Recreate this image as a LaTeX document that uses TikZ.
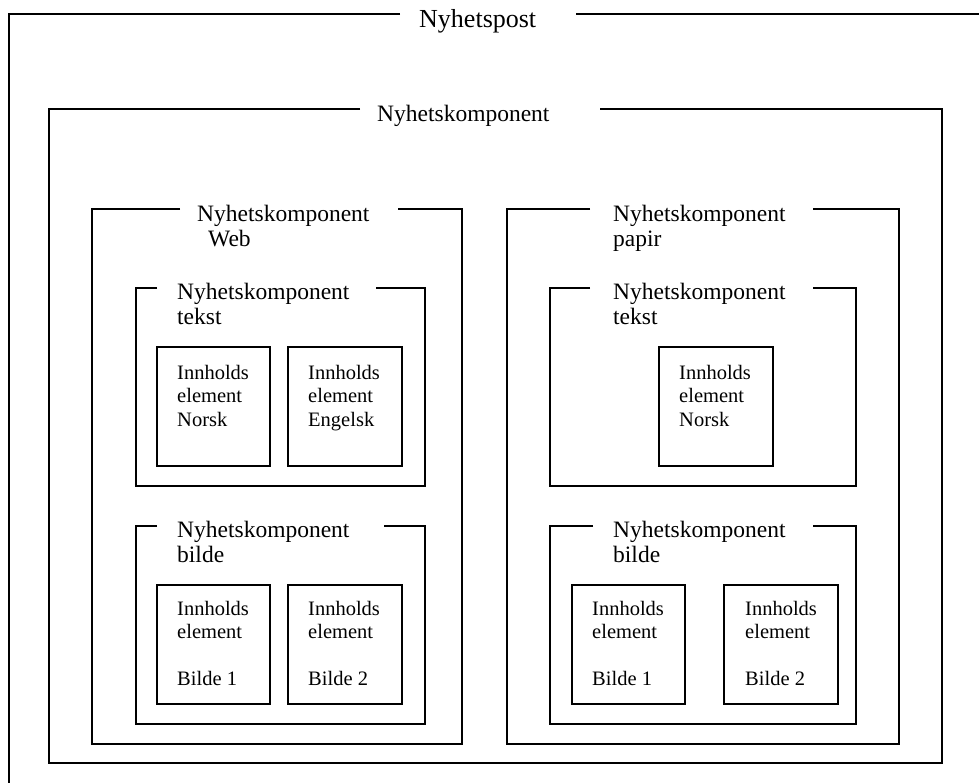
\documentclass[tikz,border=0pt]{standalone}
\usepackage{fontspec}
\setmainfont{Liberation Serif}
\begin{document}
% frame whose top edge is broken for its title:
% #1 left, #2 top, #3 right, #4 bottom, #5 end of left top segment, #6 start of right top segment
\newcommand{\gapframe}[6]{%
  \draw[frameline] (#5,#2) -- (#1,#2) -- (#1,#4) -- (#3,#4) -- (#3,#2) -- (#6,#2);}
% multi-line nodes sit on the baseline of their last line
\begin{tikzpicture}[x=1pt, y=-1pt,
  frameline/.style={line width=1.6pt, line join=miter},
  title/.style={anchor=base west, inner sep=0pt, align=left,
    font=\fontsize{23.5}{25.5}\selectfont},
  item/.style={anchor=base west, inner sep=0pt, align=left,
    font=\fontsize{20.5}{23.5}\selectfont}]
\useasboundingbox (0,0) rectangle (979,782);
\fill[white] (0,0) rectangle (979,782);

% Nyhetspost (open towards right and bottom)
\draw[frameline] (400,14) -- (9,14) -- (9,800);
\draw[frameline] (576,14) -- (990,14);
\node[title, font=\fontsize{26}{28}\selectfont] (post) at (419,27) {Nyhetspost};

% Nyhetskomponent
\gapframe{49}{109}{942}{763}{360}{600}
\node[title] (komp) at (377,121) {Nyhetskomponent};

% Web branch
\gapframe{92}{209}{462}{744}{180}{398}
\node[title] (web) at (197,246.5) {Nyhetskomponent\\\hspace*{11pt}Web};

\gapframe{136}{288}{425}{486}{157}{376}
\node[title] (webtekst) at (177,324.5) {Nyhetskomponent\\tekst};
\draw[frameline] (157,347) rectangle (270,466);
\node[item] (webnorsk) at (177,426) {Innholds\\element\\Norsk};
\draw[frameline] (288,347) rectangle (402,466);
\node[item] (webengelsk) at (308,426) {Innholds\\element\\Engelsk};

\gapframe{136}{526}{425}{724}{157}{384}
\node[title] (webbilde) at (177,562.5) {Nyhetskomponent\\bilde};
\draw[frameline] (157,585) rectangle (270,704);
\node[item] (webbilde1) at (177,685.5) {Innholds\\element\\[23.5pt]Bilde 1};
\draw[frameline] (288,585) rectangle (402,704);
\node[item] (webbilde2) at (308,685.5) {Innholds\\element\\[23.5pt]Bilde 2};

% Papir branch
\gapframe{507}{209}{899}{744}{590}{813}
\node[title] (papir) at (613,246.5) {Nyhetskomponent\\papir};

\gapframe{550}{288}{856}{486}{590}{813}
\node[title] (papirtekst) at (613,324.5) {Nyhetskomponent\\tekst};
\draw[frameline] (659,347) rectangle (773,466);
\node[item] (papirnorsk) at (679,426) {Innholds\\element\\Norsk};

\gapframe{550}{526}{856}{724}{593}{813}
\node[title] (papirbilde) at (613,562.5) {Nyhetskomponent\\bilde};
\draw[frameline] (572,585) rectangle (685,704);
\node[item] (papirbilde1) at (592,685.5) {Innholds\\element\\[23.5pt]Bilde 1};
\draw[frameline] (724,585) rectangle (838,704);
\node[item] (papirbilde2) at (745,685.5) {Innholds\\element\\[23.5pt]Bilde 2};
\end{tikzpicture}
\end{document}
